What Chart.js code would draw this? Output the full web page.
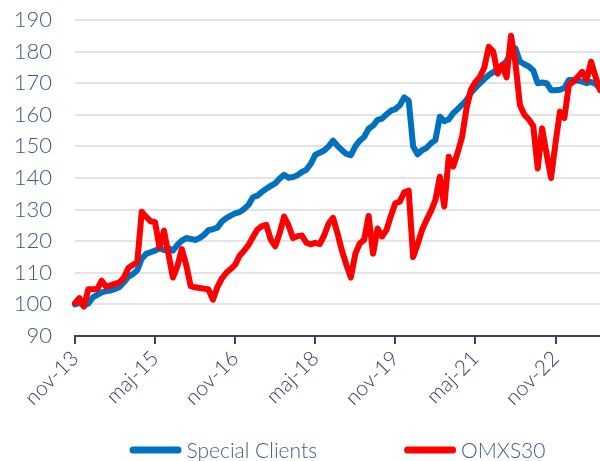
<!DOCTYPE html>
<html><head><meta charset="utf-8">
<script src="https://cdn.jsdelivr.net/npm/chart.js@4/dist/chart.umd.min.js"></script>
<style>html,body{margin:0;padding:0;background:#fff;} canvas{display:block;}</style>
</head><body>
<canvas id="c" width="600" height="461"></canvas>
<script>
// ---- data ----
const startMonth = 10; // November (0-based)
const startYear = 2013;
const monthNames = ['jan','feb','mar','apr','maj','jun','jul','aug','sep','okt','nov','dec'];
const tickLabels = ['nov-13','maj-15','nov-16','maj-18','nov-19','maj-21','nov-22'];
const seriesNames = ['Special Clients', 'OMXS30'];

const specialClients = [
 100,100.5,99.6,100.3,102.2,103,103.8,104.2,104.4,104.9,
 105.5,107,108.8,109.6,110.8,114.5,116,116.5,117,117.8,
 117.2,117.8,117,118.8,120.2,121,120.7,120.4,121,122,
 123.5,123.8,124.3,126.2,127.3,128.1,128.8,129.2,130.2,131.5,
 133.9,134.4,135.6,136.6,137.5,138.3,139.8,141,140.1,140.3,
 140.9,141.9,142.6,144.5,147.3,148,148.7,150,151.8,150.2,
 148.8,147.6,147.2,150,151.8,153,155.6,156.6,158.4,158.8,
 160.1,161.3,161.8,163,165.5,164.5,150,147.5,148.8,149.5,
 151,152,159.4,158,158.5,160.5,161.8,163.2,164.7,167,
 168.5,170,171.3,172.6,173.5,174.4,175.5,177,179.5,181,
 176.8,176,175.3,174,170,170.2,170,167.8,167.8,167.9,
 168.5,171,171,170.8,170.5,170,170.4,169.8,168.4
];
const omxs30 = [
 100.4,102,99.3,104.8,104.8,104.8,107.5,105.6,106,106.5,
 107,108.5,111.5,112.5,113.5,129.3,127.7,126.3,126,118,
 123.3,116,108.5,112,117.5,112.5,105.8,105.4,105.2,105,
 104.7,101.5,105.5,108.2,110,111.2,112.6,115.4,117,118.8,
 121.3,123.7,124.8,125.2,120.5,118.4,122.5,127.8,125,121,
 121.6,121.8,119.5,119,119.5,119.1,121.8,125.6,127.4,122.5,
 117,112.5,108.5,116,119.3,120.5,128,116,124,121.5,
 123.5,128,132,132.5,135.5,136,115,119,123.5,126.7,
 129.5,133,140.4,131,146.7,143.6,148,153,162,168,
 170.4,172,175,181.5,180,173,175.8,171.8,185,176.3,
 163.1,160,158.5,156.5,143,155.7,147.5,140,151,161,
 159,169.4,170.5,172,173.6,171,176.8,172,167.8
];

const categories = specialClients.map((_, i) => {
  const m = (startMonth + i) % 12;
  const y = startYear + Math.floor((startMonth + i) / 12);
  return monthNames[m] + '-' + String(y).slice(2);
});

// ---- custom legend (drawn at bottom) ----
const customLegend = {
  id: 'customLegend',
  afterDraw(chart) {
    const ctx = chart.ctx;
    ctx.save();
    ctx.font = '300 21px Lato';
    const items = chart.data.datasets.map(d => ({ text: d.label, color: d.borderColor }));
    const lineW = 52, gapText = 5, gapItems = 87;
    let total = 0;
    items.forEach(it => { it.w = lineW + gapText + ctx.measureText(it.text).width; total += it.w; });
    total += gapItems * (items.length - 1);
    const ca = chart.chartArea;
    let x = (ca.left + ca.right) / 2 - total / 2;
    const y = 450;
    items.forEach(it => {
      ctx.strokeStyle = it.color;
      ctx.lineWidth = 7;
      ctx.lineCap = 'round';
      ctx.beginPath();
      ctx.moveTo(x + 3.5, y);
      ctx.lineTo(x + lineW - 3.5, y);
      ctx.stroke();
      ctx.fillStyle = '#44607a';
      ctx.textBaseline = 'middle';
      ctx.textAlign = 'left';
      ctx.fillText(it.text, x + lineW + gapText, y + 1);
      x += it.w + gapItems;
    });
    ctx.restore();
  }
};

new Chart(document.getElementById('c'), {
  type: 'line',
  data: {
    labels: categories,
    datasets: [
      { label: seriesNames[0], data: specialClients, borderColor: '#0070C0', backgroundColor: '#0070C0', order: 1 },
      { label: seriesNames[1], data: omxs30, borderColor: '#FF0000', backgroundColor: '#FF0000', order: 0 }
    ]
  },
  options: {
    responsive: false,
    animation: false,
    devicePixelRatio: 1,
    layout: { padding: { top: 20, left: 0, right: 0, bottom: 38 } },
    plugins: { legend: { display: false }, tooltip: { enabled: false } },
    elements: {
      point: { radius: 0 },
      line: { tension: 0, borderWidth: 6, borderCapStyle: 'round', borderJoinStyle: 'round', fill: false }
    },
    scales: {
      x: {
        type: 'category',
        offset: false,
        border: { display: true, color: '#4b3c5a', width: 2 },
        grid: { display: true, drawOnChartArea: false, drawTicks: true, tickLength: 8, color: '#4b3c5a', lineWidth: 2 },
        ticks: {
          autoSkip: false, maxRotation: 45, minRotation: 45, padding: 2,
          color: '#2f3f58', font: { family: 'Lato', size: 21, weight: '300' },
          callback(value, index) {
            const lab = categories[index];
            return tickLabels.includes(lab) ? lab : null;
          }
        },
        afterFit(s) { s.height = 87; }
      },
      y: {
        min: 90, max: 190,
        ticks: { stepSize: 10, padding: 2, color: '#3d5a78', font: { family: 'Lato', size: 22, weight: '300' } },
        grid: { color: '#e4e4e4', lineWidth: 2, drawTicks: true, tickLength: 21, tickColor: 'rgba(0,0,0,0)' },
        border: { display: false },
        afterFit(s) { s.width = 75; }
      }
    }
  },
  plugins: [customLegend]
});
</script>
</body></html>
